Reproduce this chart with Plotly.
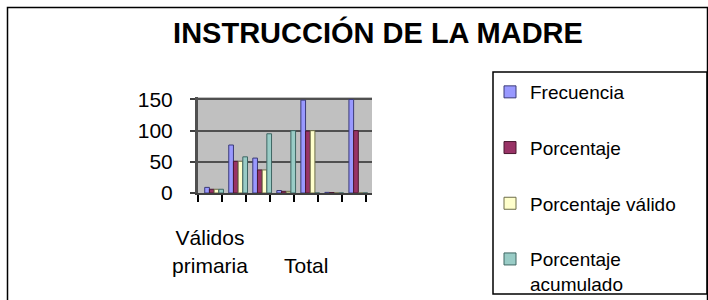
import plotly.graph_objects as go

# ---- data ----
categories = [0, 1, 2, 3, 4, 5, 6]  # category positions (Válidos primaria ... Total)
tick_positions = [0, 4]
tick_labels = ["Válidos<br>primaria", "<br>Total"]

series_names = ["Frecuencia", "Porcentaje", "Porcentaje válido", "Porcentaje<br>acumulado"]
frecuencia = [9, 77, 56, 4, 149, 1, 150]
porcentaje = [6, 51, 37, 2.7, 99.3, 0.7, 100]
porcentaje_valido = [6, 51, 37, 2.7, 100, 0, 0]
porcentaje_acumulado = [6, 58, 95, 100, 0, 0, 0]

colors = ["#9999FF", "#993366", "#FFFFCC", "#99CCC6"]
edge_colors = ["#3A3A78", "#4A1830", "#6E6E48", "#3E6663"]

FONT = "Arial, Liberation Sans, sans-serif"

W, H = 708, 300
L, R_EDGE, T, B_EDGE = 198, 372, 97, 193
pw, ph = R_EDGE - L, B_EDGE - T


def px_x(p):
    return (p - L) / pw


def px_y(p):
    return (B_EDGE - p) / ph


fig = go.Figure()
all_values = [frecuencia, porcentaje, porcentaje_valido, porcentaje_acumulado]
bw = 0.195
for i, (name, vals) in enumerate(zip(series_names, all_values)):
    fig.add_trace(go.Bar(
        x=categories, y=vals, name=name,
        width=bw, offset=-0.22 + i * bw,
        marker=dict(color=colors[i], line=dict(color=edge_colors[i], width=1)),
        legendgroup=f"g{i}",
    ))

fig.update_layout(
    width=W, height=H,
    margin=dict(l=L, r=W - R_EDGE, t=T, b=H - B_EDGE, pad=0, autoexpand=False),
    paper_bgcolor="white",
    plot_bgcolor="#C0C0C0",
    barmode="overlay",
    font=dict(family=FONT, color="black"),
    title=dict(
        text="<b>INSTRUCCIÓN DE LA MADRE</b>",
        font=dict(family=FONT, size=29, color="black"),
        x=378 / W, xanchor="center", xref="container",
        y=1 - 33 / H, yanchor="middle", yref="container",
    ),
    showlegend=True,
    legend=dict(
        x=px_x(490), xanchor="left", y=px_y(73), yanchor="top",
        font=dict(family=FONT, size=19, color="black"),
        traceorder="grouped", tracegroupgap=28,
        valign="top", bgcolor="rgba(0,0,0,0)", borderwidth=0,
        maxheight=300,
    ),
    xaxis=dict(
        range=[-0.5, 6.74], automargin=False,
        tickmode="array", tickvals=tick_positions, ticktext=tick_labels,
        ticks="", showgrid=False, zeroline=False,
        tickfont=dict(family=FONT, size=21, color="black"),
        ticklabelstandoff=25,
        showline=True, linecolor="#404040", linewidth=2,
        minor=dict(tickmode="array", tickvals=[k - 0.5 for k in range(8)],
                   ticks="outside", ticklen=7, tickwidth=1.5, tickcolor="black",
                   showgrid=False),
        fixedrange=True,
    ),
    yaxis=dict(
        range=[0, 154], automargin=False, fixedrange=True,
        tickmode="array", tickvals=[0, 50, 100, 150],
        ticks="outside", ticklen=5, tickcolor="#404040", tickwidth=1.5,
        tickfont=dict(family=FONT, size=21, color="black"),
        ticklabelstandoff=13,
        showgrid=True, gridcolor="#505050", gridwidth=1.5,
        zeroline=False,
        showline=True, linecolor="#505050", linewidth=3,
    ),
    shapes=[
        dict(type="rect", xref="paper", yref="paper",
             x0=px_x(7.5), x1=px_x(707.5), y0=px_y(310), y1=px_y(7.5),
             line=dict(color="black", width=1.5), fillcolor="rgba(0,0,0,0)", layer="below"),
        dict(type="rect", xref="paper", yref="paper",
             x0=px_x(493), x1=px_x(707), y0=px_y(294), y1=px_y(72),
             line=dict(color="black", width=1.5), fillcolor="rgba(0,0,0,0)", layer="above"),
    ],
)

fig.write_html(
    "out.html",
    config={"displayModeBar": False},
    post_script="document.body.style.margin='0px';document.body.style.overflow='hidden';",
)
